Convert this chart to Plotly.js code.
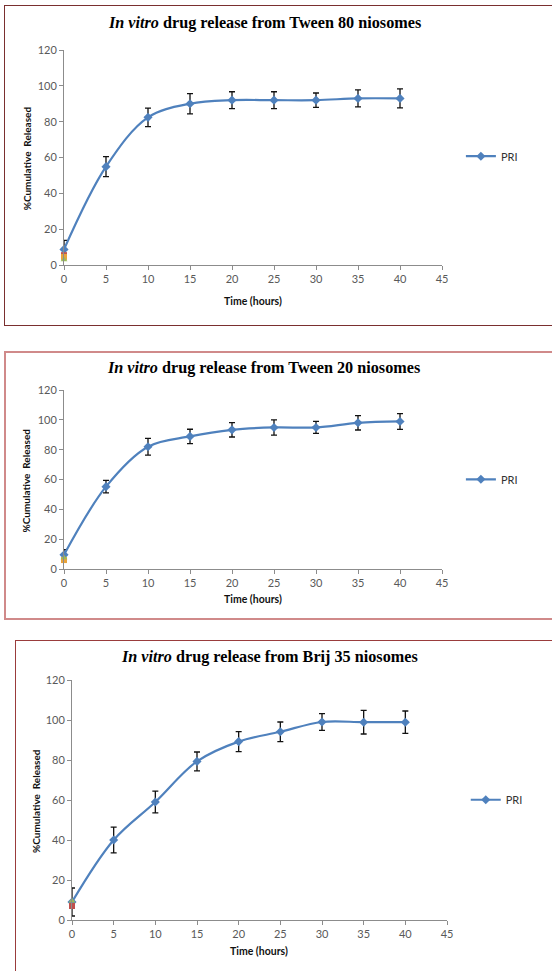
<!DOCTYPE html>
<html>
<head>
<meta charset="utf-8">
<script src="https://cdn.plot.ly/plotly-3.0.1.min.js"></script>
<style>
  html, body { margin: 0; padding: 0; background: #ffffff; width: 552px; height: 971px; overflow: hidden; }
  .panel { position: absolute; box-sizing: border-box; background: #ffffff; }
  #p1 { left: 4px; top: 5px; width: 552px; height: 321px; border: 1.5px solid #7a2f2f; }
  #p2 { left: 4px; top: 351px; width: 552px; height: 269px; border: 2px solid #d08a8a; }
  #p3 { left: 15px; top: 640px; width: 545px; height: 340px; border: 1.5px solid #9a3c3c; }
</style>
</head>
<body>
<div id="p1" class="panel"><div id="c1"></div></div>
<div id="p2" class="panel"><div id="c2"></div></div>
<div id="p3" class="panel"><div id="c3"></div></div>
<script>
// ---- data ----
const timeHours = [0, 5, 10, 15, 20, 25, 30, 35, 40];
const xTicks = [0, 5, 10, 15, 20, 25, 30, 35, 40, 45];
const yTicks = [0, 20, 40, 60, 80, 100, 120];

const tween80Release = [8.7, 54.9, 82.4, 90.0, 92.0, 92.0, 92.0, 93.0, 93.0];
const tween80Error   = [5.0, 5.6, 5.2, 5.7, 4.7, 4.7, 4.0, 4.8, 5.3];
const tween20Release = [9.5, 55.2, 82.0, 88.9, 93.3, 94.9, 94.9, 98.0, 98.9];
const tween20Error   = [3.5, 4.2, 5.6, 4.8, 4.8, 5.1, 4.0, 4.8, 5.3];
const brij35Release  = [9.0, 40.0, 59.0, 79.3, 89.2, 94.1, 99.0, 98.9, 98.9];
const brij35Error    = [7.0, 6.4, 5.4, 4.7, 5.0, 4.9, 4.2, 5.9, 5.6];

// small stray markers at t = 0 (other series)
const tween80Extra = { red: [5.5], orange: [4.5], green: [3.0] };
const tween20Extra = { orange: [6.0], green: [7.5] };
const brij35Extra  = { red: [7.0], green: [9.5] };

const titles = [
  "<i>In vitro</i> drug release from Tween 80 niosomes",
  "<i>In vitro</i> drug release from Tween 20 niosomes",
  "<i>In vitro</i> drug release from Brij 35 niosomes"
];
const seriesName = "PRI";
const yTitle = "%Cumulative  Released";
const xTitle = "Time (hours)";

// ---- styling ----
const blue = "#4f81bd";
const tickFont = { family: "Lato, 'Open Sans', sans-serif", size: 11, color: "#595959" };

function extraTraces(extra) {
  const out = [];
  const spec = {
    red: { color: "#c0504d", symbol: "square" },
    orange: { color: "#e8a33c", symbol: "square" },
    green: { color: "#9bbb59", symbol: "triangle-up" }
  };
  Object.keys(extra).forEach(k => {
    out.push({
      x: [0], y: extra[k], type: "scatter", mode: "markers", showlegend: false,
      hoverinfo: "skip", cliponaxis: false,
      marker: { color: spec[k].color, symbol: spec[k].symbol, size: 6 }
    });
  });
  return out;
}

function mainTrace(vals, errs) {
  return {
    x: timeHours, y: vals, type: "scatter", mode: "lines+markers", name: seriesName,
    cliponaxis: false,
    line: { color: blue, width: 2.2, shape: "spline", smoothing: 1 },
    marker: { color: blue, symbol: "diamond", size: 7 },
    error_y: { type: "data", array: errs, visible: true, color: "#111111", thickness: 1.3, width: 3 }
  };
}

function makeLayout(cfg) {
  const axisBase = {
    showgrid: false, zeroline: false, showline: true, linecolor: "#8c8c8c", linewidth: 1,
    ticks: "outside", ticklen: 4, tickcolor: "#8c8c8c", tickfont: tickFont,
    fixedrange: true
  };
  return {
    width: cfg.w, height: cfg.h,
    margin: { l: cfg.l, r: cfg.r, t: cfg.t, b: cfg.b, pad: 0 },
    paper_bgcolor: "rgba(0,0,0,0)", plot_bgcolor: "rgba(0,0,0,0)",
    showlegend: true,
    legend: {
      x: cfg.legX, y: cfg.legY, xanchor: "left", yanchor: "middle",
      font: { family: "Lato, 'Open Sans', sans-serif", size: 11, color: "#333333" },
      bgcolor: "rgba(0,0,0,0)", borderwidth: 0, itemwidth: 30
    },
    xaxis: Object.assign({}, axisBase, { range: [0, 45], tickvals: xTicks, ticktext: xTicks.map(String) }),
    yaxis: Object.assign({}, axisBase, { range: [0, 120], tickvals: yTicks, ticktext: yTicks.map(String) }),
    annotations: [
      { text: "<b>" + cfg.title + "</b>", xref: "paper", yref: "paper", x: cfg.titleX, y: cfg.titleY,
        xanchor: "center", yanchor: "middle", showarrow: false,
        font: { family: "'Liberation Serif', 'Times New Roman', serif", size: 16.2, color: "#000000" } },
      { text: "<b>" + yTitle + "</b>", xref: "paper", yref: "paper", x: cfg.yTitleX, y: cfg.yTitleY,
        xanchor: "center", yanchor: "middle", showarrow: false, textangle: -90,
        font: { family: "Lato, 'Open Sans', sans-serif", size: 10, color: "#111111" } },
      { text: "<b>" + xTitle + "</b>", xref: "paper", yref: "paper", x: cfg.xTitleX, y: cfg.xTitleY,
        xanchor: "center", yanchor: "middle", showarrow: false,
        font: { family: "Lato, 'Open Sans', sans-serif", size: 10.5, color: "#111111" } }
    ]
  };
}

const config = { displayModeBar: false, staticPlot: true };

// Panel 1
Plotly.newPlot("c1",
  [mainTrace(tween80Release, tween80Error)].concat(extraTraces(tween80Extra)),
  makeLayout({ w: 549, h: 318, l: 58.8, t: 44.2, r: 111.8, b: 58.8,
    title: titles[0], titleX: 0.5296, titleY: 1.126,
    yTitleX: -0.098, yTitleY: 0.496, xTitleX: 0.4987, xTitleY: -0.169,
    legX: 1.05, legY: 0.506 }), config);

// Panel 2
Plotly.newPlot("c2",
  [mainTrace(tween20Release, tween20Error)].concat(extraTraces(tween20Extra)),
  makeLayout({ w: 548, h: 265, l: 58.3, t: 36.7, r: 111.7, b: 48.6,
    title: titles[1], titleX: 0.528, titleY: 1.125,
    yTitleX: -0.0995, yTitleY: 0.497, xTitleX: 0.4996, xTitleY: -0.167,
    legX: 1.05, legY: 0.501 }), config);

// Panel 3
Plotly.newPlot("c3",
  [mainTrace(brij35Release, brij35Error)].concat(extraTraces(brij35Extra)),
  makeLayout({ w: 542, h: 337, l: 55.8, t: 38.5, r: 110.5, b: 57.8,
    title: titles[2], titleX: 0.5275, titleY: 1.097,
    yTitleX: -0.0948, yTitleY: 0.498, xTitleX: 0.4996, xTitleY: -0.131,
    legX: 1.05, legY: 0.501 }), config);
</script>
</body>
</html>
